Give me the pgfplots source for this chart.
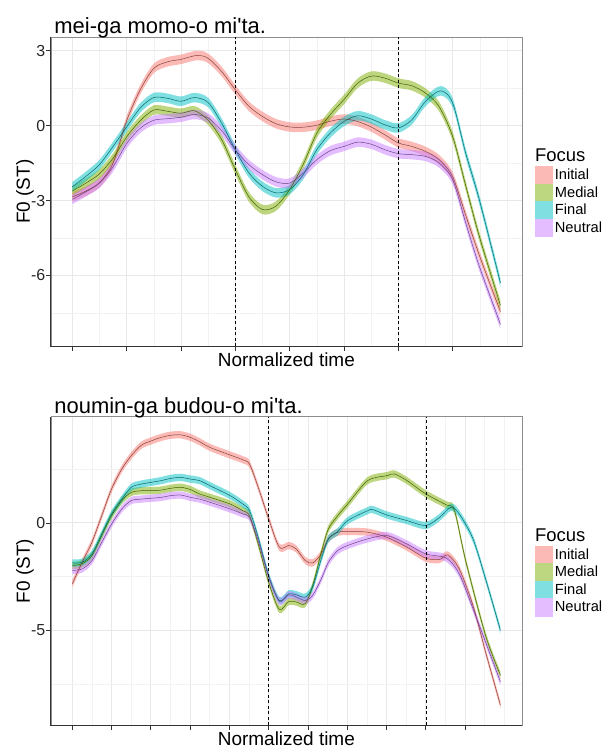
\documentclass[border=0pt]{standalone}
\usepackage{fontspec}
\setmainfont{Liberation Sans}[Ligatures=TeXOff]
\usepackage{pgfplots}
\usepackage{pgfplotstable}
\pgfplotsset{compat=1.18}
\usepgfplotslibrary{fillbetween}

\definecolor{initial}{HTML}{F8766D}
\definecolor{medial}{HTML}{7CAE00}
\definecolor{final}{HTML}{00BFC4}
\definecolor{neutral}{HTML}{C77CFF}

% ---- top panel: mei-ga momo-o mi'ta.
\pgfplotstableread{
t f0
0 -2.85
0.25 -2.62
0.5 -2.28
0.75 -1.5
1 0.2
1.25 1.44
1.5 2.3
1.75 2.56
2 2.66
2.3 2.82
2.5 2.7
2.75 2.17
3 1.44
3.25 0.78
3.5 0.37
3.75 0.08
4 -0.05
4.25 -0.06
4.5 0.02
4.75 0.18
5 0.27
5.25 0.17
5.5 -0.05
5.75 -0.36
6 -0.69
6.25 -0.83
6.5 -1.03
6.75 -1.36
7 -2.05
7.25 -3.65
7.5 -5.25
7.88 -7.45
}\topinit
\pgfplotstableread{
t f0
0 -2.62
0.25 -2.3
0.5 -1.93
0.75 -1.3
1 -0.45
1.25 0.2
1.5 0.63
1.75 0.58
2 0.5
2.25 0.6
2.5 0.22
2.75 -0.56
3 -1.76
3.25 -2.85
3.5 -3.36
3.75 -3.22
4 -2.56
4.25 -1.55
4.5 -0.3
4.75 0.45
5 1.05
5.25 1.7
5.5 1.99
5.75 1.91
6 1.71
6.25 1.6
6.5 1.31
6.75 0.77
7 -0.43
7.24 -2.4
7.49 -4.43
7.88 -7.2
}\topmed
\pgfplotstableread{
t f0
0 -2.45
0.25 -2.03
0.5 -1.56
0.75 -0.83
1 -0.05
1.25 0.71
1.5 1.13
1.75 1.1
2 0.98
2.25 1.13
2.5 0.93
2.75 0.1
3 -0.96
3.25 -1.89
3.5 -2.43
3.75 -2.69
4 -2.56
4.25 -1.96
4.5 -0.96
4.75 -0.29
5 0.17
5.25 0.4
5.5 0.27
5.75 0.04
6 -0.09
6.25 0.24
6.5 0.97
6.78 1.4
7 0.91
7.24 -1.1
7.49 -2.96
7.88 -6.3
}\topfin
\pgfplotstableread{
t f0
0 -2.95
0.25 -2.65
0.5 -2.3
0.75 -1.65
1 -0.72
1.25 -0.1
1.5 0.22
1.75 0.28
2 0.34
2.25 0.45
2.5 0.31
2.75 -0.2
3 -0.96
3.25 -1.56
3.5 -1.96
3.75 -2.25
4 -2.3
4.25 -1.9
4.5 -1.36
4.75 -1.0
5 -0.83
5.25 -0.66
5.5 -0.74
5.75 -0.96
6 -1.12
6.25 -1.16
6.5 -1.23
6.75 -1.49
7 -2.16
7.24 -3.89
7.49 -5.63
7.88 -7.96
}\topneu

% ---- bottom panel: noumin-ga budou-o mi'ta.
\pgfplotstableread{
t f0
0 -2.83
0.25 -1.83
0.5 -0.9
0.75 0.34
1 1.58
1.26 2.51
1.5 3.13
1.76 3.62
2.01 3.82
2.26 3.98
2.5 4.08
2.76 4.1
3.01 3.98
3.24 3.78
3.51 3.51
4.02 3.16
4.34 2.94
4.51 2.74
4.72 1.73
5.0 0.19
5.27 -1.13
5.51 -1.05
5.70 -1.21
5.93 -1.75
6.12 -1.86
6.34 -1.44
6.52 -0.74
6.76 -0.43
7.01 -0.4
7.52 -0.43
8.01 -0.67
8.52 -1.13
9.0 -1.64
9.35 -1.7
9.56 -1.49
9.85 -2.14
10.2 -3.84
10.52 -6.0
10.9 -8.48
}\botinit
\pgfplotstableread{
t f0
0 -1.98
0.25 -1.9
0.5 -1.52
0.75 -0.59
1 0.34
1.26 1.04
1.5 1.42
1.76 1.5
2.01 1.5
2.26 1.53
2.5 1.61
2.76 1.66
3.01 1.55
3.24 1.35
3.51 1.19
4.02 0.88
4.34 0.57
4.51 0.34
4.72 -0.9
5.0 -2.76
5.27 -4.02
5.51 -3.65
5.70 -3.68
5.93 -3.76
6.12 -2.91
6.34 -1.36
6.52 -0.28
6.76 0.34
7.01 0.88
7.52 1.97
8.01 2.2
8.2 2.28
8.52 1.97
9.0 1.35
9.52 0.84
9.73 0.57
10.02 -1.8
10.52 -5.23
10.9 -7.09
}\botmed
\pgfplotstableread{
t f0
0 -1.86
0.25 -1.83
0.5 -1.44
0.75 -0.51
1 0.42
1.26 1.11
1.5 1.66
1.76 1.81
2.01 1.89
2.26 1.97
2.5 2.07
2.76 2.12
3.01 2.04
3.24 1.97
3.51 1.73
4.02 1.27
4.34 0.88
4.51 0.57
4.72 -0.59
5.0 -2.45
5.27 -3.61
5.51 -3.3
5.70 -3.34
5.93 -3.45
6.12 -2.99
6.34 -1.67
6.52 -0.74
6.76 -0.4
7.01 0.11
7.52 0.57
7.65 0.62
8.01 0.37
8.52 0.11
9.0 -0.12
9.35 0.26
9.64 0.73
9.85 0.42
10.2 -0.74
10.52 -2.6
10.9 -5.0
}\botfin
\pgfplotstableread{
t f0
0 -2.21
0.25 -2.14
0.5 -1.75
0.75 -0.9
1 -0.05
1.26 0.65
1.5 1.04
1.76 1.11
2.01 1.15
2.26 1.19
2.5 1.27
2.76 1.3
3.01 1.19
3.24 1.11
3.51 0.96
4.02 0.65
4.34 0.42
4.51 0.26
4.72 -0.74
5.0 -2.52
5.27 -3.65
5.51 -3.34
5.70 -3.45
5.93 -3.61
6.12 -3.37
6.34 -2.6
6.52 -1.83
6.76 -1.28
7.01 -1.05
7.52 -0.74
8.01 -0.59
8.52 -0.98
9.0 -1.44
9.52 -1.64
9.85 -2.37
10.2 -3.99
10.52 -5.54
10.9 -7.4
}\botneu

% ribbon (table, colour, half width, path name)
\newcommand{\ribbon}[4]{%
  \addplot[name path=#4up, draw=none, smooth, forget plot] table[x=t, y expr=\thisrow{f0}+#3] {#1};
  \addplot[name path=#4lo, draw=none, smooth, forget plot] table[x=t, y expr=\thisrow{f0}-#3] {#1};
  \addplot[fill=#2, fill opacity=0.5, draw=none, forget plot] fill between[of=#4up and #4lo];
}
\newcommand{\midline}[2]{%
  \addplot[#2!55!black, line width=0.5pt, smooth, forget plot] table[x=t, y=f0] {#1};
}
\newcommand{\fkey}[2]{%
  \addlegendimage{legend image code/.code={\fill[#1!50!white] (0pt,-8.6pt) rectangle (17.2pt,8.6pt);}}
  \addlegendentry{#2}
}

\pgfplotsset{
  panel/.style={
    scale only axis, width=472pt,
    axis line style={draw=black!45, line width=0.7pt},
    xmajorgrids, ymajorgrids, xminorgrids, yminorgrids,
    major grid style={draw=black!9, line width=0.9pt},
    minor grid style={draw=black!5, line width=0.6pt},
    xticklabels={},
    tick align=outside, xtick pos=bottom, ytick pos=left,
    major tick length=4.5pt, minor tick length=0pt,
    tick style={draw=black!80, line width=0.8pt},
    ticklabel style={font=\fontsize{16}{19}\selectfont, text=black!85},
    yticklabel style={inner sep=1pt},
    label style={font=\fontsize{19}{22}\selectfont},
    xlabel={Normalized time}, ylabel={F0 (ST)},
    xlabel style={at={(axis description cs:0.5,-0.066)}, anchor=base},
    ylabel style={at={(axis description cs:-0.0445,0.5)}, anchor=base},
    every axis title shift=0pt,
    title style={at={(axis description cs:0,1)}, anchor=base west, yshift=3pt,
      font=\fontsize{22}{26}\selectfont},
    legend cell align=left,
    legend style={at={(axis description cs:1.0275,0.5816)}, anchor=north west,
      draw=none, fill=none, inner sep=0pt, outer sep=0pt, row sep=0pt,
      column sep=2pt, nodes={inner sep=0.5pt},
      font=\fontsize{14.7}{17}\selectfont},
  },
}

\begin{document}
\begin{tikzpicture}
\path (0,0) rectangle (603pt,749pt);

\begin{axis}[panel, at={(51pt,402pt)}, anchor=south west, height=310pt,
  xmin=-0.394, xmax=8.274, ymin=-8.84, ymax=3.56,
  xtick={0,...,7}, minor xtick={0.5,1.5,...,7.5,8},
  ytick={-6,-3,0,3}, yticklabels={-6,-3,0,3}, minor ytick={-7.5,-4.5,-1.5,1.5},
  title={mei-ga momo-o mi'ta.}]
\ribbon{\topinit}{initial}{0.19}{ta}
\ribbon{\topmed}{medial}{0.19}{tb}
\ribbon{\topfin}{final}{0.19}{tc}
\ribbon{\topneu}{neutral}{0.19}{td}
\midline{\topinit}{initial}
\midline{\topmed}{medial}
\midline{\topfin}{final}
\midline{\topneu}{neutral}
\addplot[black, dash pattern=on 3pt off 2.5pt, line width=0.6pt, forget plot] coordinates {(3,-8.84) (3,3.56)};
\addplot[black, dash pattern=on 3pt off 2.5pt, line width=0.6pt, forget plot] coordinates {(6,-8.84) (6,3.56)};
\fkey{initial}{Initial}
\fkey{medial}{Medial}
\fkey{final}{Final}
\fkey{neutral}{Neutral}
\end{axis}
\draw[black!80, line width=1pt] (51pt,712pt) -- (51pt,402pt) -- (523pt,402pt);
\node[anchor=base west, font=\fontsize{18.5}{22}\selectfont, inner sep=0pt] at (536pt,587.3pt) {Focus};

\begin{axis}[panel, at={(51pt,22.3pt)}, anchor=south west, height=309pt,
  xmin=-0.545, xmax=11.445, ymin=-9.41, ymax=4.94,
  xtick={0,...,10}, minor xtick={0.5,1.5,...,10.5,11},
  ytick={-5,0}, yticklabels={-5,0}, minor ytick={-7.5,-2.5,2.5},
  title={noumin-ga budou-o mi'ta.}]
\ribbon{\botinit}{initial}{0.17}{ba}
\ribbon{\botmed}{medial}{0.17}{bb}
\ribbon{\botfin}{final}{0.17}{bc}
\ribbon{\botneu}{neutral}{0.17}{bd}
\midline{\botinit}{initial}
\midline{\botmed}{medial}
\midline{\botfin}{final}
\midline{\botneu}{neutral}
\addplot[black, dash pattern=on 3pt off 2.5pt, line width=0.6pt, forget plot] coordinates {(5,-9.41) (5,4.94)};
\addplot[black, dash pattern=on 3pt off 2.5pt, line width=0.6pt, forget plot] coordinates {(9,-9.41) (9,4.94)};
\fkey{initial}{Initial}
\fkey{medial}{Medial}
\fkey{final}{Final}
\fkey{neutral}{Neutral}
\end{axis}
\draw[black!80, line width=1pt] (51pt,331.3pt) -- (51pt,22.3pt) -- (523pt,22.3pt);
\node[anchor=base west, font=\fontsize{18.5}{22}\selectfont, inner sep=0pt] at (536pt,206.7pt) {Focus};
\end{tikzpicture}
\end{document}
